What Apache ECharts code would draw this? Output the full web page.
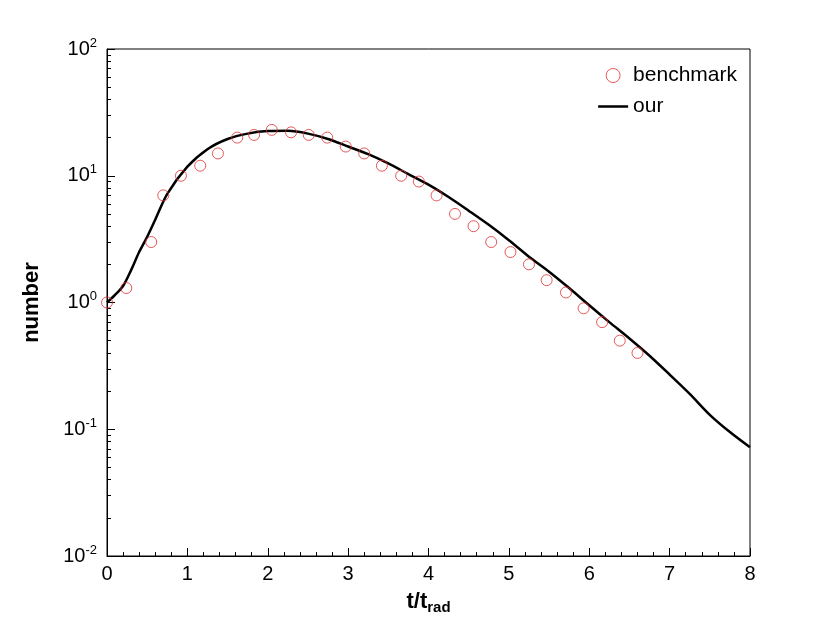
<!DOCTYPE html>
<html lang="en">
<head>
<meta charset="UTF-8">
<script src="https://cdn.jsdelivr.net/npm/echarts@6/dist/echarts.min.js"></script>
</head>
<body style="margin:0;background:#fff">
<div id="main" style="width:830px;height:624px;"></div>
<script>
var benchX = [0, 0.24, 0.55, 0.70, 0.92, 1.16, 1.38, 1.62, 1.83, 2.05, 2.29, 2.51, 2.74, 2.97, 3.20, 3.42, 3.66, 3.88, 4.10, 4.33, 4.56, 4.78, 5.02, 5.25, 5.47, 5.71, 5.93, 6.16, 6.38, 6.60];
var benchY = [1.0, 1.3, 3.0, 7.0, 10, 12, 15, 20, 21, 23, 22, 21, 20, 17, 15, 12, 10, 9, 7, 5, 4, 3, 2.5, 2, 1.5, 1.2, 0.9, 0.7, 0.5, 0.4];
var ourX = [0, 0.1, 0.2, 0.3, 0.4, 0.5, 0.6, 0.75, 1, 1.25, 1.5, 1.75, 2, 2.25, 2.5, 2.75, 3, 3.25, 3.5, 3.75, 4, 4.25, 4.5, 4.75, 5, 5.25, 5.5, 5.75, 6, 6.25, 6.5, 6.75, 7, 7.25, 7.5, 7.75, 8];
var ourY = [1.0, 1.15, 1.35, 1.8, 2.5, 3.3, 4.5, 7.2, 11.8, 16.2, 19.5, 21.5, 22.5, 22.6, 21.5, 19.5, 17, 14.8, 12.5, 10.3, 8.5, 6.8, 5.3, 4.1, 3.1, 2.3, 1.75, 1.3, 0.95, 0.7, 0.52, 0.38, 0.27, 0.19, 0.13, 0.095, 0.072];

var chart = echarts.init(document.getElementById('main'));
var font = 'Liberation Sans, Arial, sans-serif';
chart.setOption({
    animation: false,
    grid: { left: 107, right: 80, top: 49, bottom: 68, show: true, borderColor: '#000', borderWidth: 1 },
    legend: {
        right: 88, top: 60, orient: 'vertical', itemGap: 10, itemWidth: 30, itemHeight: 14,
        textStyle: { fontFamily: font, fontSize: 21, color: '#000' },
        data: [
            { name: 'benchmark', icon: 'circle', itemStyle: { color: 'transparent', borderColor: '#e03030', borderWidth: 1 } },
            { name: 'our', icon: 'path://M0,6L30,6L30,8.5L0,8.5Z', itemStyle: { color: '#000', borderWidth: 0 } }
        ]
    },
    xAxis: {
        type: 'value', min: 0, max: 8, interval: 1,
        name: '{b|t/t}{s|rad}', nameLocation: 'middle', nameGap: 32,
        nameTextStyle: { rich: {
            b: { fontFamily: font, fontSize: 22, fontWeight: 'bold', color: '#000' },
            s: { fontFamily: font, fontSize: 15, fontWeight: 'bold', color: '#000', verticalAlign: 'bottom', padding: [12, 0, 0, 0] }
        } },
        axisLine: { lineStyle: { color: '#000' } },
        axisTick: { inside: true, length: 8, lineStyle: { color: '#000' } },
        minorTick: { show: true, splitNumber: 5, length: 4, lineStyle: { color: '#000' } },
        axisLabel: { fontFamily: font, fontSize: 20, color: '#000', margin: 8 },
        splitLine: { show: false }
    },
    yAxis: {
        type: 'log', min: 0.01, max: 100, logBase: 10,
        name: 'number', nameLocation: 'middle', nameGap: 64, nameRotate: 90,
        nameTextStyle: { fontFamily: font, fontSize: 22, fontWeight: 'bold', color: '#000' },
        axisLine: { lineStyle: { color: '#000' } },
        axisTick: { inside: true, length: 8, lineStyle: { color: '#000' } },
        minorTick: { show: true, splitNumber: 9, length: 4, lineStyle: { color: '#000' } },
        axisLabel: {
            color: '#000', margin: 10,
            formatter: function (v) { return '{b|10}{s|' + Math.round(Math.log10(v)) + '}'; },
            rich: {
                b: { fontFamily: font, fontSize: 20, color: '#000' },
                s: { fontFamily: font, fontSize: 13, color: '#000', verticalAlign: 'top', padding: [0, 0, 12, 0] }
            }
        },
        splitLine: { show: false }
    },
    series: [
        {
            name: 'benchmark', type: 'scatter', symbol: 'circle', symbolSize: 11,
            itemStyle: { color: 'transparent', borderColor: '#e03030', borderWidth: 1 },
            data: benchX.map(function (x, i) { return [x, benchY[i]]; }),
            z: 3
        },
        {
            name: 'our', type: 'line', showSymbol: false, smooth: 0.3,
            lineStyle: { color: '#000', width: 2.5 }, itemStyle: { color: '#000' },
            data: ourX.map(function (x, i) { return [x, ourY[i]]; }),
            z: 2
        }
    ]
});
</script>
</body>
</html>
